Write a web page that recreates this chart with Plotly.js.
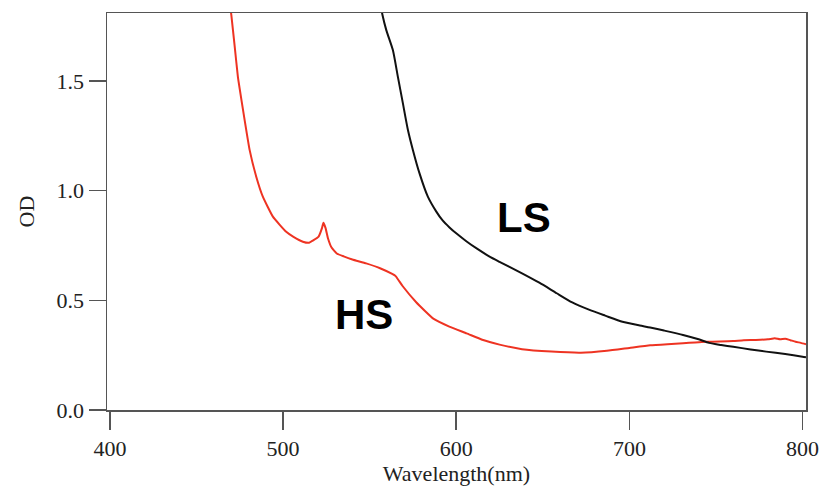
<!DOCTYPE html>
<html>
<head>
<meta charset="utf-8">
<script src="https://cdn.plot.ly/plotly-3.0.1.min.js"></script>
<style>html,body{margin:0;padding:0;background:#fff}#chart{width:825px;height:487px}</style>
</head>
<body>
<div id="chart"></div>
<script>
// HS sample (red)
const hsWavelength = [469, 470.1, 472, 473.9, 476, 477.8, 480.7, 484.5, 488.3, 494.1, 501.8, 506, 511.4, 515, 517.2, 520.5, 522.5, 523.3, 524.5, 526, 528, 531, 535, 540, 548, 556, 563, 565, 569, 577, 587, 596, 606, 615, 625, 638, 655, 672, 687, 700, 712, 722, 731, 738, 744, 752, 760, 766, 773, 780, 784, 787, 790, 793, 796, 799, 802];
const hsOD =         [1.87, 1.80, 1.66, 1.518, 1.41, 1.321, 1.184, 1.063, 0.972, 0.881, 0.812, 0.789, 0.767, 0.762, 0.772, 0.79, 0.83, 0.853, 0.83, 0.78, 0.74, 0.713, 0.70, 0.686, 0.668, 0.646, 0.62, 0.61, 0.565, 0.49, 0.415, 0.38, 0.349, 0.32, 0.298, 0.277, 0.266, 0.261, 0.27, 0.283, 0.295, 0.30, 0.304, 0.308, 0.311, 0.312, 0.314, 0.318, 0.319, 0.322, 0.327, 0.322, 0.325, 0.318, 0.311, 0.306, 0.30];
// LS sample (black)
const lsWavelength = [556, 557.4, 559.6, 563.4, 566.3, 569.2, 572.1, 575, 578.8, 583.6, 588.4, 592, 596.1, 600, 606, 612, 619, 625, 638, 648, 658, 667, 677, 686, 696, 706, 712, 720, 731, 740, 746, 753, 760, 770, 779, 790, 800, 802];
const lsOD =         [1.86, 1.80, 1.731, 1.64, 1.518, 1.397, 1.276, 1.184, 1.078, 0.972, 0.905, 0.865, 0.832, 0.805, 0.768, 0.735, 0.70, 0.675, 0.623, 0.58, 0.532, 0.49, 0.456, 0.43, 0.402, 0.385, 0.376, 0.362, 0.342, 0.322, 0.306, 0.296, 0.288, 0.276, 0.266, 0.255, 0.243, 0.24];
const xTicks = [400, 500, 600, 700, 800];
const yTicks = [0.0, 0.5, 1.0, 1.5];
const yTickText = ['0.0', '0.5', '1.0', '1.5'];
const labels = [{text: 'HS', x: 546.5, y: 0.437}, {text: 'LS', x: 639, y: 0.875}];

const traces = [
  {x: hsWavelength, y: hsOD, type: 'scatter', mode: 'lines', name: 'HS',
   line: {color: '#ee3322', width: 2, shape: 'spline', smoothing: 0.4}},
  {x: lsWavelength, y: lsOD, type: 'scatter', mode: 'lines', name: 'LS',
   line: {color: '#111111', width: 2, shape: 'spline', smoothing: 0.6}}
];

const tickFont = {family: 'Liberation Serif, Times New Roman, serif', size: 22, color: '#222'};
const layout = {
  width: 825, height: 487,
  margin: {l: 107, r: 19, t: 13, b: 77},
  paper_bgcolor: '#fff', plot_bgcolor: '#fff',
  showlegend: false,
  xaxis: {
    range: [398.3, 802], tickvals: xTicks, ticktext: xTicks.map(String),
    ticks: 'outside', ticklen: 18, tickwidth: 1.5, tickcolor: '#555',
    showline: true, linecolor: '#555', linewidth: 1.5, mirror: true,
    showgrid: false, zeroline: false, tickfont: tickFont,
    title: {text: 'Wavelength(nm)', font: tickFont, standoff: 2}
  },
  yaxis: {
    range: [0, 1.809], tickvals: yTicks, ticktext: yTickText,
    ticks: 'outside', ticklen: 17, tickwidth: 1.5, tickcolor: '#555',
    showline: true, linecolor: '#555', linewidth: 1.5, mirror: true,
    showgrid: false, zeroline: false, tickfont: tickFont,
    title: {text: 'OD', font: tickFont, standoff: 16}
  },
  annotations: labels.map(l => ({
    text: '<b>' + l.text + '</b>', x: l.x, y: l.y, xref: 'x', yref: 'y',
    showarrow: false, font: {family: 'Liberation Sans, Arial, sans-serif', size: 42, color: '#000'}
  }))
};
Plotly.newPlot('chart', traces, layout, {displayModeBar: false, staticPlot: true});
</script>
</body>
</html>
